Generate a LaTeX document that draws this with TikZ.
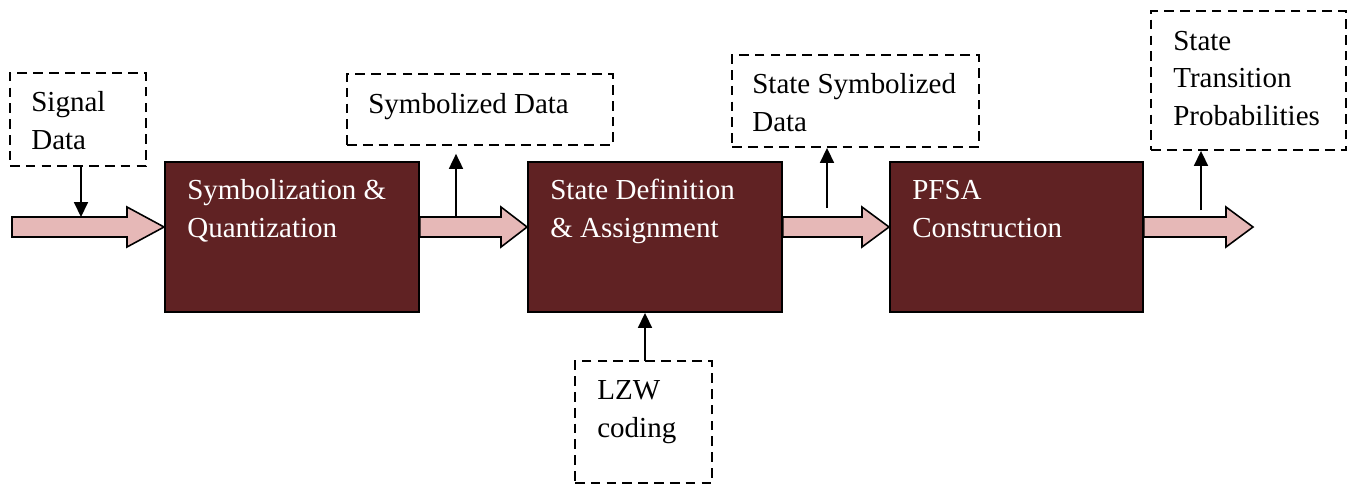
\documentclass[tikz,border=0pt]{standalone}
\usepackage{fontspec}
\setmainfont{Liberation Serif}
\usetikzlibrary{arrows.meta,calc}
\definecolor{boxred}{RGB}{96,34,35}
\definecolor{pinkarrow}{RGB}{230,184,183}
\begin{document}
\begin{tikzpicture}[x=0.02cm,y=-0.02cm,
 procbox/.style={draw=black, line width=1.1pt, fill=boxred, rectangle, inner sep=0pt, minimum height=3cm},
 dbox/.style={draw=black, line width=1.1pt, dash pattern=on 5.5pt off 3.5pt, rectangle, inner sep=0pt},
 txt/.style={font=\fontsize{16.5}{21.3}\selectfont, align=left, anchor=base west, inner sep=0pt},
 wtxt/.style={txt, text=white},
 fat/.style={draw=black, line width=0.9pt, fill=pinkarrow, line join=miter},
 thin/.style={line width=0.8pt, -{Triangle[width=8pt,length=8.5pt]}}]
\useasboundingbox (0,0) rectangle (1356,487);

% process boxes
\node[procbox, minimum width=5.08cm] (b1) at (292,237) {};
\node[procbox, minimum width=5.08cm] (b2) at (655,237) {};
\node[procbox, minimum width=5.06cm] (b3) at (1016.5,237) {};

% dashed boxes
\node[dbox, minimum width=2.72cm, minimum height=1.86cm] (sig) at (78,119.5) {};
\node[dbox, minimum width=5.32cm, minimum height=1.42cm] (sym) at (480,109.5) {};
\node[dbox, minimum width=4.94cm, minimum height=1.84cm] (ssd) at (855.5,101) {};
\node[dbox, minimum width=3.90cm, minimum height=2.78cm] (stp) at (1248.5,80.5) {};
\node[dbox, minimum width=2.74cm, minimum height=2.44cm] (lzw) at (643.5,422) {};

% fat arrows
\draw[fat] (12,217) -- (127,217) -- (127,207) -- (b1.west |- 0,227) -- (127,247) -- (127,237) -- (12,237) -- cycle;
\draw[fat] (b1.east |- 0,217) -- (501,217) -- (501,207) -- (b2.west |- 0,227) -- (501,247) -- (501,237) -- (b1.east |- 0,237) -- cycle;
\draw[fat] (b2.east |- 0,217) -- (862,217) -- (862,207) -- (b3.west |- 0,227) -- (862,247) -- (862,237) -- (b2.east |- 0,237) -- cycle;
\draw[fat] (b3.east |- 0,217) -- (1226,217) -- (1226,207) -- (1253,227) -- (1226,247) -- (1226,237) -- (b3.east |- 0,237) -- cycle;

% thin arrows
\coordinate (sigin) at (81,217);
\draw[thin] (sig.south -| sigin) -- (sigin);
\coordinate (symout) at (456,217);
\draw[thin, shorten >=4.5pt] (symout) -- (symout |- sym.south);
\coordinate (ssdout) at (827,208);
\draw[thin] (ssdout) -- (ssdout |- ssd.south);
\coordinate (stpout) at (1201,210);
\draw[thin] (stpout) -- (stpout |- stp.south);
\coordinate (lzwout) at (645,361);
\draw[thin] (lzwout) -- (lzwout |- b2.south);

% texts (anchor = baseline of last line)
\node[txt] (tsig) at (31,149) {Signal\\Data};
\node[wtxt] (tb1) at (187,237) {Symbolization \&\\Quantization};
\node[txt] (tsym) at (368,113) {Symbolized Data};
\node[wtxt] (tb2) at (550,237) {State Definition\\\& Assignment};
\node[txt] (tssd) at (752,131) {State Symbolized\\Data};
\node[wtxt] (tb3) at (912,237) {PFSA\\Construction};
\node[txt] (tstp) at (1173,125) {State\\Transition\\Probabilities};
\node[txt] (tlzw) at (597,437) {LZW\\coding};
\end{tikzpicture}
\end{document}
